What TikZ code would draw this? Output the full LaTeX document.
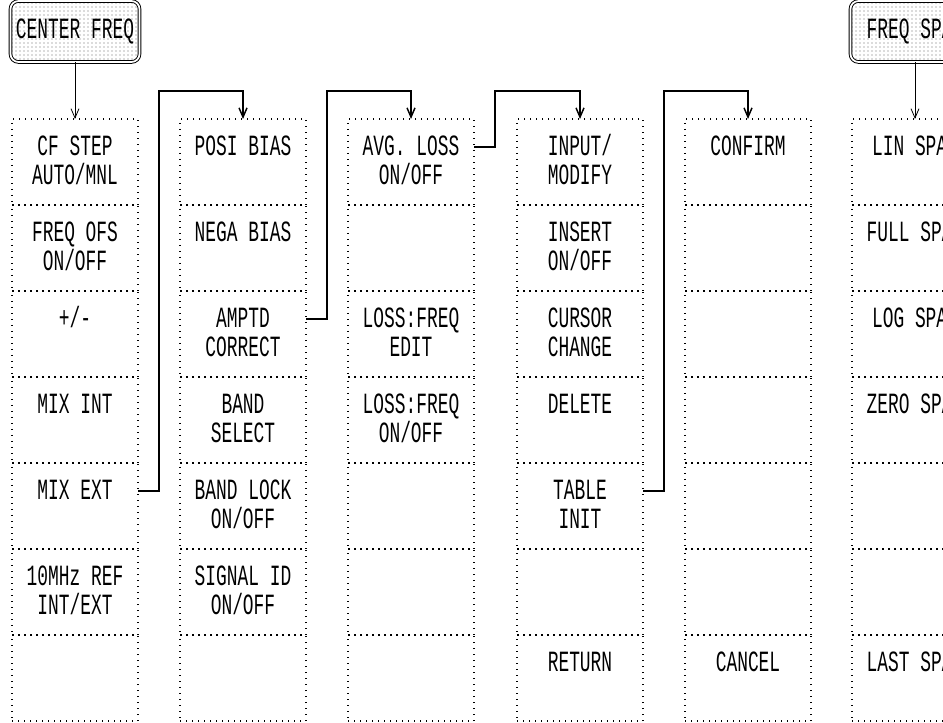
\documentclass[tikz,border=0pt]{standalone}
\usepackage{fontspec}
\newfontfamily\plotfont[FakeStretch=0.61]{Liberation Mono}
\usetikzlibrary{arrows.meta,positioning,patterns}
\newcommand{\keyw}{94.5pt}
\newcommand{\keyh}{64.5pt}
\newcommand{\keylabel}[1]{\parbox[c][\keyh][t]{\keyw}{\centering\rule{0pt}{27.5pt}#1}}
\tikzset{
  key/.style={draw, dash pattern=on 1pt off 3.5pt, line width=1pt,
    inner sep=0pt, outer sep=0pt, minimum width=\keyw, minimum height=\keyh,
    font=\plotfont\fontsize{22pt}{21.5pt}\selectfont},
  menukey/.style={draw, double, double distance=1.3pt, line width=0.7pt,
    rounded corners=6pt, pattern=dots, pattern color=black!60,
    inner sep=0pt, outer sep=0pt, minimum width=96.75pt, minimum height=45.75pt,
    font=\plotfont\fontsize{22pt}{21.5pt}\selectfont},
  arrow/.style={-{Straight Barb[length=7pt,width=6pt]}, line width=0.6pt},
  link/.style={-{Straight Barb[length=7pt,width=6pt]}, line width=1.1pt}
}
\begin{document}
\begin{tikzpicture}[x=0.75pt, y=-0.75pt]
  \useasboundingbox (0,0) rectangle (943,723);
  \clip (0,0) rectangle (943,723);

  % center freq keys
  \node[key] (cfstep) at (75,162) {\keylabel{CF STEP\\AUTO/MNL}};
  \node[key, below=0pt of cfstep] (freqofs) {\keylabel{FREQ OFS\\ON/OFF}};
  \node[key, below=0pt of freqofs] (plusminus) {\keylabel{+/-}};
  \node[key, below=0pt of plusminus] (mixint) {\keylabel{MIX INT}};
  \node[key, below=0pt of mixint] (mixext) {\keylabel{MIX EXT}};
  \node[key, below=0pt of mixext] (refosc) {\keylabel{10MHz REF\\INT/EXT}};
  \node[key, below=0pt of refosc] (cfblank) {\keylabel{}};

  \node[menukey, above=42.75pt of cfstep] (centerfreq) {CENTER FREQ};

  % mix ext keys
  \node[key] (posibias) at (243,162) {\keylabel{POSI BIAS}};
  \node[key, below=0pt of posibias] (negabias) {\keylabel{NEGA BIAS}};
  \node[key, below=0pt of negabias] (amptd) {\keylabel{AMPTD\\CORRECT}};
  \node[key, below=0pt of amptd] (bandsel) {\keylabel{BAND\\SELECT}};
  \node[key, below=0pt of bandsel] (bandlock) {\keylabel{BAND LOCK\\ON/OFF}};
  \node[key, below=0pt of bandlock] (signalid) {\keylabel{SIGNAL ID\\ON/OFF}};
  \node[key, below=0pt of signalid] (mxblank) {\keylabel{}};

  % amptd correct keys
  \node[key] (avgloss) at (411,162) {\keylabel{AVG. LOSS\\ON/OFF}};
  \node[key, below=0pt of avgloss] (acblankA) {\keylabel{}};
  \node[key, below=0pt of acblankA] (lossedit) {\keylabel{LOSS:FREQ\\EDIT}};
  \node[key, below=0pt of lossedit] (losson) {\keylabel{LOSS:FREQ\\ON/OFF}};
  \node[key, below=0pt of losson] (acblankB) {\keylabel{}};
  \node[key, below=0pt of acblankB] (acblankC) {\keylabel{}};
  \node[key, below=0pt of acblankC] (acblankD) {\keylabel{}};

  % loss table keys
  \node[key] (inputmod) at (580,162) {\keylabel{INPUT/\\MODIFY}};
  \node[key, below=0pt of inputmod] (insert) {\keylabel{INSERT\\ON/OFF}};
  \node[key, below=0pt of insert] (cursor) {\keylabel{CURSOR\\CHANGE}};
  \node[key, below=0pt of cursor] (delete) {\keylabel{DELETE}};
  \node[key, below=0pt of delete] (tableinit) {\keylabel{TABLE\\INIT}};
  \node[key, below=0pt of tableinit] (ltblank) {\keylabel{}};
  \node[key, below=0pt of ltblank] (return) {\keylabel{RETURN}};

  % table init keys
  \node[key] (confirm) at (748,162) {\keylabel{CONFIRM}};
  \node[key, below=0pt of confirm] (tiblankA) {\keylabel{}};
  \node[key, below=0pt of tiblankA] (tiblankB) {\keylabel{}};
  \node[key, below=0pt of tiblankB] (tiblankC) {\keylabel{}};
  \node[key, below=0pt of tiblankC] (tiblankD) {\keylabel{}};
  \node[key, below=0pt of tiblankD] (tiblankE) {\keylabel{}};
  \node[key, below=0pt of tiblankE] (cancel) {\keylabel{CANCEL}};

  % freq span keys
  \node[key] (linspan) at (915,162) {\keylabel{LIN SPAN}};
  \node[key, below=0pt of linspan] (fullspan) {\keylabel{FULL SPAN}};
  \node[key, below=0pt of fullspan] (logspan) {\keylabel{LOG SPAN}};
  \node[key, below=0pt of logspan] (zerospan) {\keylabel{ZERO SPAN}};
  \node[key, below=0pt of zerospan] (fsblankA) {\keylabel{}};
  \node[key, below=0pt of fsblankA] (fsblankB) {\keylabel{}};
  \node[key, below=0pt of fsblankB] (lastspan) {\keylabel{LAST SPAN}};

  \node[menukey, above=42.75pt of linspan] (freqspan) {FREQ SPAN};

  \coordinate (bus) at (0,91);

  \draw[arrow] (centerfreq) -- (cfstep);
  \draw[arrow] (freqspan) -- (linspan);
  \draw[link] ([yshift=-21pt]mixext.north east) -- ++(21,0)
    |- (posibias.north |- bus) -- (posibias.north);
  \draw[link] ([yshift=-21pt]amptd.north east) -- ++(21,0)
    |- (avgloss.north |- bus) -- (avgloss.north);
  \draw[link] ([yshift=-21pt]avgloss.north east) -- ++(21,0)
    |- (inputmod.north |- bus) -- (inputmod.north);
  \draw[link] ([yshift=-21pt]tableinit.north east) -- ++(21,0)
    |- (confirm.north |- bus) -- (confirm.north);
\end{tikzpicture}
\end{document}
